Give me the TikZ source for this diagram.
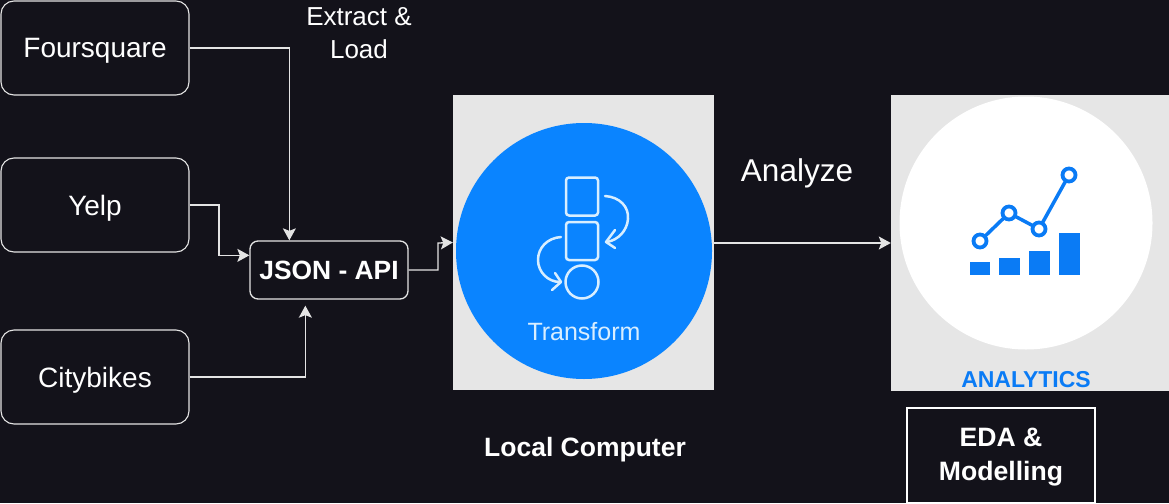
\documentclass[tikz,border=0pt]{standalone}
\usepackage{fontspec}
\setmainfont{Liberation Sans}
\usetikzlibrary{arrows.meta}
\definecolor{bgdark}{HTML}{13121A}
\definecolor{linegray}{HTML}{E4E4E4}
\definecolor{panel}{HTML}{E6E6E6}
\definecolor{tblue}{HTML}{0A84FF}
\definecolor{ablue}{HTML}{0A7BF5}
\definecolor{paleblue}{HTML}{D8EEFF}
\tikzset{
  x=1pt,y=-1pt,
  srcbox/.style={draw=linegray,line width=1.1pt,rounded corners=13pt,minimum width=188pt,minimum height=94pt,text=white,font=\fontsize{28}{32}\selectfont,inner sep=0pt,text height=20pt,text depth=0pt},
  apibox/.style={draw=linegray,line width=1.3pt,rounded corners=8pt,minimum width=158pt,minimum height=58pt,text=white,font=\bfseries\fontsize{26.4}{30}\selectfont,inner sep=0pt,text height=19pt,text depth=0pt},
  plainbox/.style={draw=white,line width=1.1pt,minimum width=188pt,minimum height=95pt,inner sep=0pt},
  wire/.style={draw=linegray,line width=1.3pt,-{Stealth[inset=2.5pt,length=12pt,width=13pt]}},
  lbl/.style={text=white,align=center,inner sep=0pt},
  panelbox/.style={fill=panel,draw=none,inner sep=0pt},
  icon/.style={draw=paleblue,line width=2.5pt,fill=none},
  bar/.style={fill=ablue,draw=none}
}
\begin{document}
\begin{tikzpicture}
\useasboundingbox (0,0) rectangle (1169,503);
\fill[bgdark] (0,0) rectangle (1169,503);

\node[panelbox,minimum width=261pt,minimum height=295pt] (tpanel) at (583.5,242.5) {};
\node[panelbox,minimum width=278pt,minimum height=296pt] (apanel) at (1030,243) {};
\node[circle,fill=tblue,minimum size=256pt,inner sep=0pt] (tcircle) at (584,251) {};
\node[circle,fill=white,minimum size=253pt,inner sep=0pt] (acircle) at (1026,223) {};

\node[srcbox] (four) at (95,48) {Foursquare};
\node[srcbox] (yelp) at (95,205) {Yelp};
\node[srcbox] (city) at (95,377) {Citybikes};
\node[apibox] (json) at (329,270) {JSON - API};
\node[plainbox] (eda) at (1001,455.5) {};
\node[lbl,font=\bfseries\fontsize{26.6}{34}\selectfont] (edatext) at (1001,457) {EDA \&\\Modelling};

\node[lbl,font=\fontsize{26}{33}\selectfont] (extract) at (359,33) {Extract \&\\Load};
\node[lbl,text height=22.7pt,text depth=0pt,font=\fontsize{31.5}{35}\selectfont] (analyze) at (797,170) {Analyze};
\node[lbl,text height=19pt,text depth=0pt,font=\bfseries\fontsize{26.5}{30}\selectfont] (local) at (585,447) {Local Computer};

\draw[wire] (four.east) -| ([xshift=40pt]json.north west);
\draw[wire] (yelp.east) -- (219,205) |- ([yshift=-15pt]json.north west);
\draw[wire] (city.east) -| ([yshift=-6pt,xshift=56pt]json.south west);
\draw[wire] (json.east) -- (438,270) -- (438,243) -- (tpanel.west);
\coordinate (astart) at (712,243);
\draw[wire] (astart) -- (apanel.west);

% Transform icon
\node[icon,rounded corners=3pt,minimum width=32pt,minimum height=38pt,inner sep=0pt] (sq1) at (582,196.5) {};
\node[icon,rounded corners=3pt,minimum width=32pt,minimum height=38pt,inner sep=0pt] (sq2) at (582,241) {};
\node[icon,circle,minimum size=33pt,inner sep=0pt] (circ) at (582,282) {};
\draw[icon,line cap=round,line join=round] (605,196) .. controls (620,197) and (629,207) .. (628,219) .. controls (627,231) and (618,240) .. (607,242);
\draw[icon,line cap=round,line join=round] (615,230) -- (606,242) -- (615,248);
\draw[icon,line cap=round,line join=round] (561,237) .. controls (547,238) and (538,248) .. (538,260) .. controls (538,272) and (548,282) .. (560,282);
\draw[icon,line cap=round,line join=round] (555,273) -- (561,282) -- (552,290);
\node[lbl,text=paleblue,text height=18pt,text depth=0pt,font=\fontsize{25}{29}\selectfont] (tlabel) at (584,331) {Transform};

% Analytics icon
\draw[ablue,line width=3.5pt] (980,241) -- (1009,213) -- (1039,229) -- (1069,175);
\foreach \n/\px/\py in {p1/980/241,p2/1009/213,p3/1039/229,p4/1069/175}
  \node[circle,draw=ablue,fill=white,line width=3.8pt,minimum size=13pt,inner sep=0pt] (\n) at (\px,\py) {};
\fill[bar] (970,262) rectangle (990,275);
\fill[bar] (999,258) rectangle (1020,275);
\fill[bar] (1029,251) rectangle (1050,275);
\fill[bar] (1059,233) rectangle (1080,275);
\node[lbl,text=ablue,text height=16.5pt,text depth=0pt,font=\bfseries\fontsize{23}{27}\selectfont] (alabel) at (1026,379) {ANALYTICS};
\end{tikzpicture}
\end{document}
